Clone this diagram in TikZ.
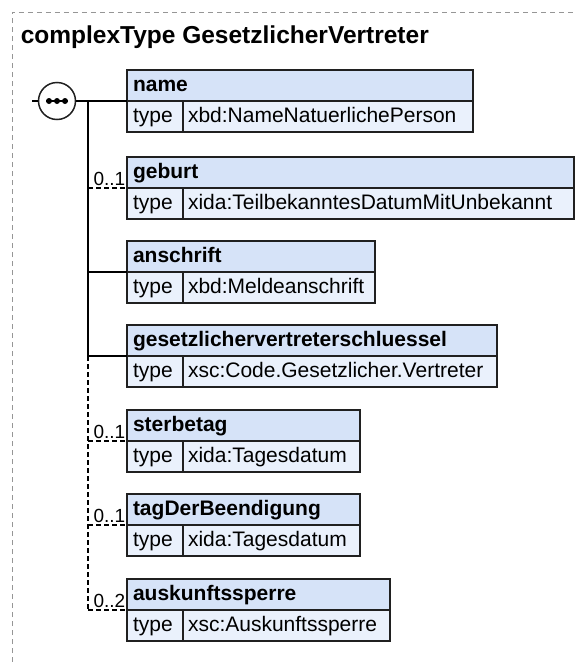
\documentclass[tikz,border=0pt]{standalone}
\usepackage{fontspec}
\setmainfont{Liberation Sans}
\definecolor{hdrblue}{RGB}{214,227,248}
\definecolor{rowblue}{RGB}{234,241,252}
\definecolor{framegray}{RGB}{150,150,150}
\definecolor{boxline}{RGB}{32,32,32}

\begin{document}
\begin{tikzpicture}[x=1pt,y=-1pt,line width=1.5pt,line cap=butt]
	\tikzstyle{hdr}=[draw=boxline,fill=hdrblue,anchor=north west,outer sep=0pt,inner xsep=6pt,inner ysep=6pt,text height=15pt,text depth=4pt,align=left,font=\fontsize{21}{25}\selectfont\bfseries];
	\tikzstyle{tcell}=[draw=boxline,fill=rowblue,anchor=north west,outer sep=0pt,inner xsep=6pt,inner ysep=6pt,text height=15pt,text depth=4pt,text width=44pt,align=left,font=\fontsize{21}{25}\selectfont];
	\tikzstyle{vcell}=[draw=boxline,fill=rowblue,anchor=north west,outer sep=0pt,inner xsep=5pt,inner ysep=6pt,text height=15pt,text depth=4pt,align=left,font=\fontsize{21}{25}\selectfont];
	\tikzstyle{mult}=[anchor=base east,inner sep=0pt,font=\fontsize{19}{23}\selectfont];
	\tikzstyle{opt}=[dash pattern=on 5pt off 3pt];
	\tikzstyle{frame}=[draw=framegray,line width=1pt,dash pattern=on 5pt off 4pt];

	\useasboundingbox (0,0) rectangle (575,662);

	% frame and title
	\draw[frame] (12,662) -- (12,12) -- (575,12);
	\node[anchor=base west,inner sep=0pt,font=\fontsize{24.5}{29}\selectfont\bfseries] (ttl) at (20,43) {complexType GesetzlicherVertreter};

	% element boxes
	\node[hdr,text width=334pt] (name)   at (127,70)  {name};
	\node[tcell] (name-t) at (name.south west) {type};
	\node[vcell,text width=280pt] (name-v) at (name-t.north east) {xbd:NameNatuerlichePerson};

	\node[hdr,text width=435pt] (geburt) at (127,157) {geburt};
	\node[tcell] (geburt-t) at (geburt.south west) {type};
	\node[vcell,text width=381pt] (geburt-v) at (geburt-t.north east) {xida:TeilbekanntesDatumMitUnbekannt};

	\node[hdr,text width=236pt] (anschr) at (127,241) {anschrift};
	\node[tcell] (anschr-t) at (anschr.south west) {type};
	\node[vcell,text width=182pt] (anschr-v) at (anschr-t.north east) {xbd:Meldeanschrift};

	\node[hdr,text width=358pt] (gvs)    at (127,325) {gesetzlichervertreterschluessel};
	\node[tcell] (gvs-t) at (gvs.south west) {type};
	\node[vcell,text width=304pt] (gvs-v) at (gvs-t.north east) {xsc:Code.Gesetzlicher.Vertreter};

	\node[hdr,text width=221pt] (sterb)  at (127,410) {sterbetag};
	\node[tcell] (sterb-t) at (sterb.south west) {type};
	\node[vcell,text width=167pt] (sterb-v) at (sterb-t.north east) {xida:Tagesdatum};

	\node[hdr,text width=221pt] (tdb)    at (127,494) {tagDerBeendigung};
	\node[tcell] (tdb-t) at (tdb.south west) {type};
	\node[vcell,text width=167pt] (tdb-v) at (tdb-t.north east) {xida:Tagesdatum};

	\node[hdr,text width=251pt] (ausk)   at (127,579) {auskunftssperre};
	\node[tcell] (ausk-t) at (ausk.south west) {type};
	\node[vcell,text width=197pt] (ausk-v) at (ausk-t.north east) {xsc:Auskunftssperre};

	% sequence symbol
	\coordinate (in) at (32,101);
	\node[circle,draw=boxline,fill=white,minimum size=37pt,inner sep=0pt] (seq) at (57,101) {};
	\draw ([xshift=-11pt]seq.center) -- ([xshift=11pt]seq.center);
	\fill ([xshift=-8pt]seq.center) circle[radius=3pt];
	\fill (seq.center) circle[radius=3pt];
	\fill ([xshift=8pt]seq.center) circle[radius=3pt];
	\draw (in) -- (seq);
	\draw (seq) -- (name.south west);

	% trunk and connectors
	\coordinate (fork) at (88,101);
	\draw (fork) -- (fork |- gvs.south west);
	\draw[opt] (fork |- gvs.south west) -- (fork |- ausk.south west);
	\draw[opt] (fork |- geburt.south west) -- (geburt.south west);
	\draw (fork |- anschr.south west) -- (anschr.south west);
	\draw (fork |- gvs.south west) -- (gvs.south west);
	\draw[opt] (fork |- sterb.south west) -- (sterb.south west);
	\draw[opt] (fork |- tdb.south west) -- (tdb.south west);
	\draw[opt] (fork |- ausk.south west) -- (ausk.south west);

	% multiplicities
	\node[mult] (geburt-m) at ([shift={(-1,-3)}]geburt.south west) {0..1};
	\node[mult] (sterb-m)  at ([shift={(-1,-3)}]sterb.south west)  {0..1};
	\node[mult] (tdb-m)    at ([shift={(-1,-3)}]tdb.south west)    {0..1};
	\node[mult] (ausk-m)   at ([shift={(-1,-3)}]ausk.south west)   {0..2};
\end{tikzpicture}
\end{document}
